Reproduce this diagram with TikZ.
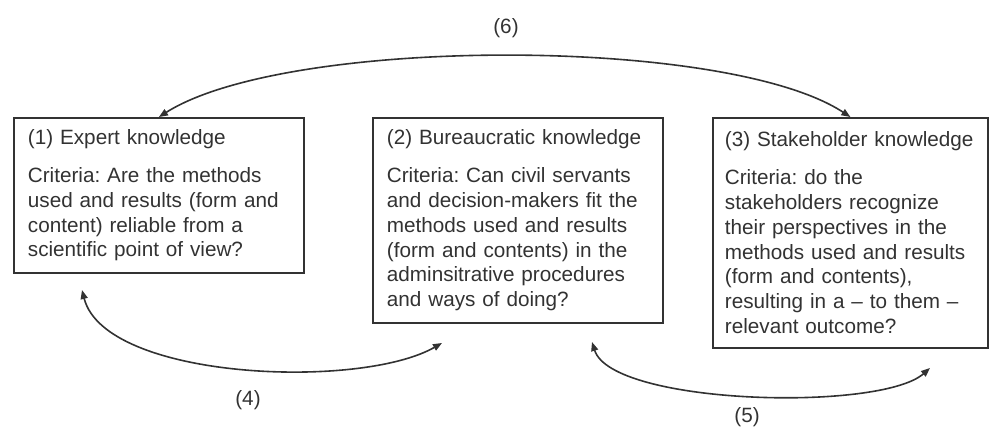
\documentclass[tikz,border=0pt]{standalone}
\usepackage{fontspec}
\setmainfont{Liberation Sans}
\usetikzlibrary{arrows.meta}
\definecolor{ink}{RGB}{50,50,50}
\frenchspacing
\begin{document}
\begin{tikzpicture}[x=1pt,y=-1pt,
  box/.style={draw=ink, line width=1.8pt, anchor=north west, align=left,
    inner xsep=14pt, inner ysep=0pt, text=ink,
    font=\fontsize{20.7}{24.8}\selectfont},
  lbl/.style={font=\fontsize{20.7}{24.8}\selectfont, text=ink, inner sep=0pt},
  conn/.style={draw=ink, line width=1.6pt,
    {Triangle[length=9pt,width=7pt]}-{Triangle[length=9pt,width=7pt]}}]
\useasboundingbox (0,0) rectangle (991,428);

\node[box, text width=262pt, minimum height=155pt] (b1) at (13,117)
  {(1) Expert knowledge\\[13pt]
   Criteria: Are the methods\\
   used and results (form and\\
   content) reliable from a\\
   scientific point of view?};

\node[box, text width=262pt, minimum height=205pt] (b2) at (372,117)
  {(2) Bureaucratic knowledge\\[13pt]
   Criteria: Can civil servants\\
   and decision-makers fit the\\
   methods used and results\\
   (form and contents) in the\\
   adminsitrative procedures\\
   and ways of doing?};

\node[box, inner xsep=12pt, text width=251pt, minimum height=230pt] (b3) at (712,117)
  {(3) Stakeholder knowledge\\[13pt]
   Criteria: do the\\
   stakeholders recognize\\
   their perspectives in the\\
   methods used and results\\
   (form and contents),\\
   resulting in a -- to them --\\
   relevant outcome?};

\node[lbl] (l6) at (506,28) {(6)};
\node[lbl] (l4) at (248,400) {(4)};
\node[lbl] (l5) at (747,417) {(5)};

\coordinate (c4a) at (82,290);
\coordinate (c4b) at (442,343);
\coordinate (c5a) at (592,342);
\coordinate (c5b) at (930,368);

\draw[conn] (b1.north) .. controls (287,36) and (727,36) .. (b3.north);
\draw[conn] (c4a) .. controls (105,380) and (360,390) .. (c4b);
\draw[conn] (c5a) .. controls (612,405) and (880,412) .. (c5b);
\end{tikzpicture}
\end{document}
